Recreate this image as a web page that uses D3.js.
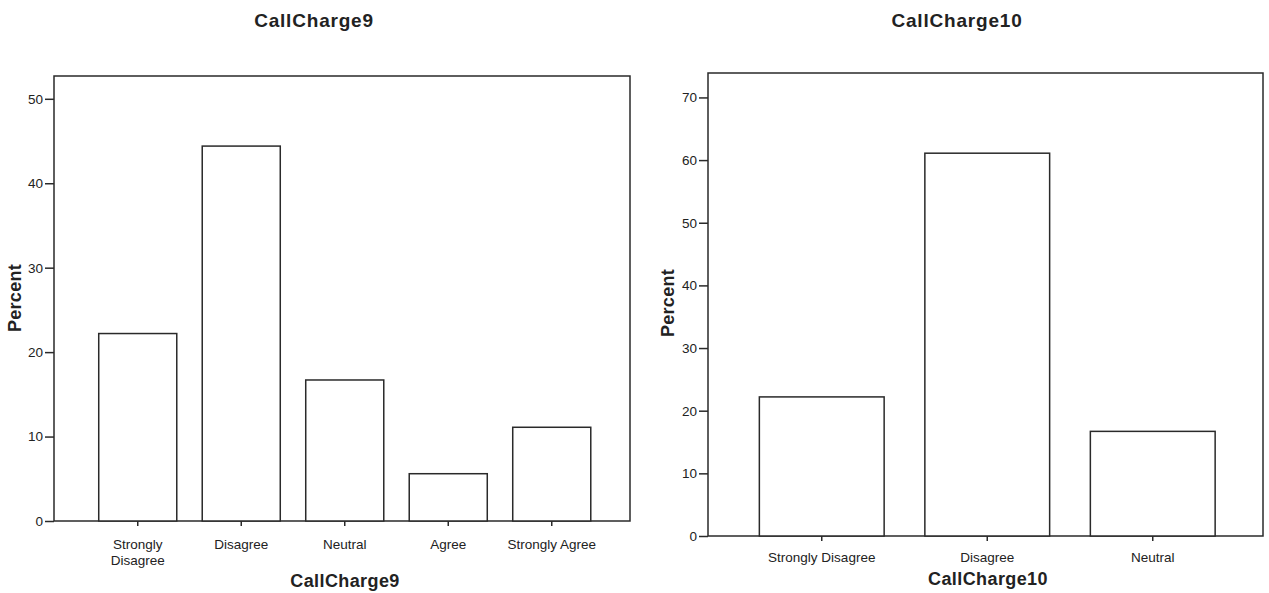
<!DOCTYPE html>
<html>
<head>
<meta charset="utf-8">
<script src="https://cdn.jsdelivr.net/npm/d3@7/dist/d3.min.js"></script>
<style>
  html, body { margin: 0; padding: 0; background: #fff; }
  svg { display: block; }
  text { font-family: "Liberation Sans", Arial, Helvetica, sans-serif; fill: #222; }
</style>
</head>
<body>
<svg id="chart" width="1269" height="593"></svg>
<script>
// Response categories and percentages for each question
const categories9 = ["Strongly Disagree", "Disagree", "Neutral", "Agree", "Strongly Agree"];
const percent9 = [22.2, 44.4, 16.7, 5.6, 11.1];
const tickLabels9 = [["Strongly", "Disagree"], ["Disagree"], ["Neutral"], ["Agree"], ["Strongly Agree"]];
const yTicks9 = [0, 10, 20, 30, 40, 50];

const categories10 = ["Strongly Disagree", "Disagree", "Neutral"];
const percent10 = [22.2, 61.1, 16.7];
const tickLabels10 = [["Strongly Disagree"], ["Disagree"], ["Neutral"]];
const yTicks10 = [0, 10, 20, 30, 40, 50, 60, 70];

const svg = d3.select("#chart");
const ink = "#2a2a2a";

function drawChart(cfg) {
  const g = svg.append("g");
  const { frame, cats, vals, labels, ticks, yMax, bandRange } = cfg;

  const x = d3.scaleBand().domain(cats).range(bandRange)
    .paddingInner(0.246).paddingOuter(0.123);
  const y = d3.scaleLinear().domain([0, yMax]).range([frame.bottom, frame.top]);

  // plot frame
  g.append("rect")
    .attr("x", frame.left).attr("y", frame.top)
    .attr("width", frame.right - frame.left).attr("height", frame.bottom - frame.top)
    .attr("fill", "none").attr("stroke", ink).attr("stroke-width", 1.5);

  // bars
  g.selectAll("rect.bar").data(cats).enter().append("rect")
    .attr("class", "bar")
    .attr("x", d => x(d))
    .attr("y", (d, i) => y(vals[i]))
    .attr("width", x.bandwidth())
    .attr("height", (d, i) => frame.bottom - y(vals[i]))
    .attr("fill", "#fff").attr("stroke", ink).attr("stroke-width", 1.5);

  // y axis
  const yAxis = d3.axisLeft(y).tickValues(ticks).tickSize(9).tickPadding(2);
  const ya = g.append("g").attr("transform", `translate(${frame.left},0)`).call(yAxis);
  ya.select(".domain").remove();
  ya.selectAll(".tick line").attr("stroke", ink).attr("stroke-width", 1.5);
  ya.selectAll(".tick text").attr("font-size", cfg.yFont).attr("fill", "#222")
    .attr("font-family", "'Liberation Sans', Arial, sans-serif");

  // x axis
  const xAxis = d3.axisBottom(x).tickSize(5).tickFormat("");
  const xa = g.append("g").attr("transform", `translate(0,${frame.bottom})`).call(xAxis);
  xa.select(".domain").remove();
  xa.selectAll(".tick line").attr("stroke", ink).attr("stroke-width", 1.5);

  // category labels (possibly two lines)
  cats.forEach((c, i) => {
    const t = g.append("text")
      .attr("x", x(c) + x.bandwidth() / 2)
      .attr("y", frame.bottom + cfg.xLabelDy)
      .attr("text-anchor", "middle")
      .attr("font-size", cfg.xFont);
    labels[i].forEach((line, j) => {
      t.append("tspan").attr("x", x(c) + x.bandwidth() / 2).attr("dy", j === 0 ? 0 : 16).text(line);
    });
  });

  // titles
  g.append("text").attr("x", cfg.titleX).attr("y", 27)
    .attr("text-anchor", "middle").attr("font-size", 19).attr("font-weight", "bold")
    .attr("letter-spacing", 0.8).text(cfg.title);
  g.append("text").attr("x", cfg.xTitleX).attr("y", cfg.xTitleY)
    .attr("text-anchor", "middle").attr("font-size", 18).attr("font-weight", "bold")
    .attr("letter-spacing", 0.4).text(cfg.title);
  g.append("text")
    .attr("transform", `translate(${cfg.yTitleX},${cfg.yTitleY}) rotate(-90)`)
    .attr("text-anchor", "middle").attr("font-size", 18).attr("font-weight", "bold")
    .attr("letter-spacing", 0.3).text("Percent");
}

drawChart({
  title: "CallCharge9",
  frame: { left: 54, right: 630, top: 76, bottom: 521 },
  cats: categories9, vals: percent9, labels: tickLabels9, ticks: yTicks9,
  yMax: 52.7, bandRange: [86, 603.5],
  yFont: 13.5, xFont: 13.5, xLabelDy: 28,
  titleX: 314, xTitleX: 345, xTitleY: 587, yTitleX: 21, yTitleY: 298
});

drawChart({
  title: "CallCharge10",
  frame: { left: 708, right: 1263, top: 73, bottom: 536 },
  cats: categories10, vals: percent10, labels: tickLabels10, ticks: yTicks10,
  yMax: 73.9, bandRange: [739, 1235.5],
  yFont: 13.5, xFont: 13.5, xLabelDy: 26,
  titleX: 957, xTitleX: 988, xTitleY: 585, yTitleX: 674, yTitleY: 303
});
</script>
</body>
</html>
